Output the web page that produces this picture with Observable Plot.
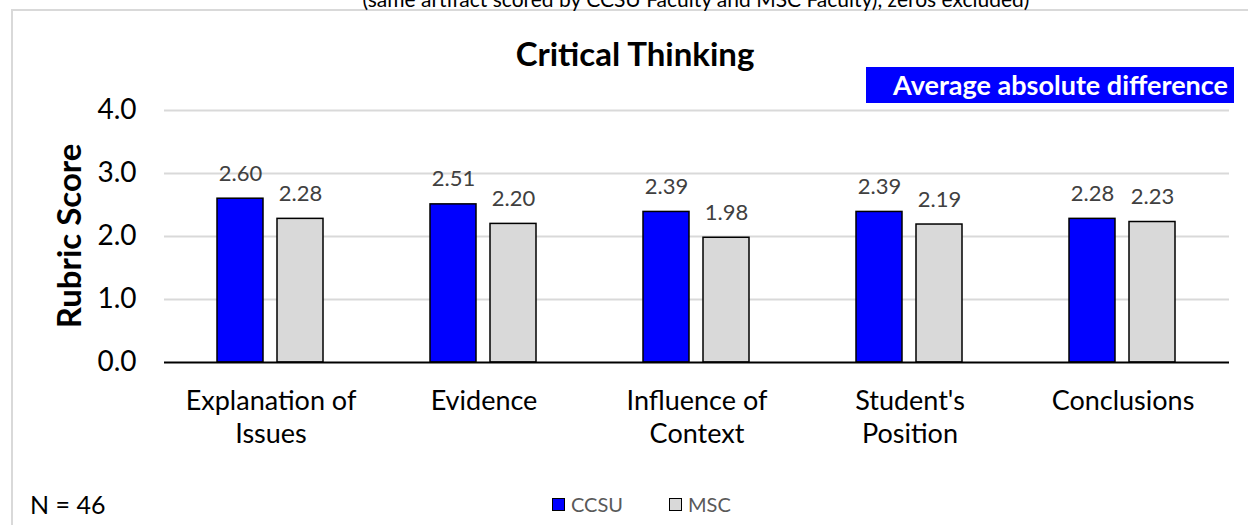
<!DOCTYPE html>
<html>
<head>
<meta charset="utf-8">
<script src="https://cdn.jsdelivr.net/npm/d3@7"></script>
<script src="https://cdn.jsdelivr.net/npm/@observablehq/plot@0.6"></script>
<style>
  html, body { margin: 0; padding: 0; background: #fff; }
  #wrap { position: relative; width: 1248px; height: 525px; overflow: hidden; font-family: Lato, "Open Sans", sans-serif; }
  #frame { position: absolute; left: 11px; top: 9px; width: 1300px; height: 600px; border-left: 2px solid #d9d9d9; border-top: 2px solid #d9d9d9; }
  #sub { position: absolute; left: 0; width: 1392px; top: -14px; text-align: center; font-size: 21px; color: #000; white-space: nowrap; }
  #title { position: absolute; left: 0; width: 1270px; top: 33px; text-align: center; font-size: 33px; font-weight: bold; color: #000; line-height: 40px; }
  #badge { position: absolute; left: 866px; top: 67px; width: 368px; height: 36px; background: #0000ff; color: #fff; font-weight: bold; font-size: 27px; line-height: 36px; text-align: right; box-sizing: border-box; padding-right: 6px; white-space: nowrap; }
  #ylab { position: absolute; left: 68px; top: 236px; transform: translate(-50%, -50%) rotate(-90deg); font-size: 33px; font-weight: bold; color: #000; white-space: nowrap; }
  #n { position: absolute; left: 30px; top: 489px; font-size: 25px; color: #000; line-height: 30px; }
  #legend { position: absolute; left: 552px; top: 492px; font-size: 20px; color: #595959; display: flex; line-height: 24px; }
  .li { display: flex; align-items: center; margin-right: 46px; }
  .sw { width: 11px; height: 11px; border: 1.5px solid #000; margin-right: 6px; }
  #chart { position: absolute; left: 0; top: 0; }
</style>
</head>
<body>
<div id="wrap">
  <div id="frame"></div>
  <div id="sub">(same artifact scored by CCSU Faculty and MSC Faculty), zeros excluded)</div>
  <div id="title">Critical Thinking</div>
  <div id="badge">Average absolute difference</div>
  <div id="ylab">Rubric Score</div>
  <div id="chart"></div>
  <div id="n">N = 46</div>
  <div id="legend"></div>
</div>
<script>
const categories = ["Explanation of\nIssues", "Evidence", "Influence of\nContext", "Student's\nPosition", "Conclusions"];
const series = ["CCSU", "MSC"];
const ccsu = [2.60, 2.51, 2.39, 2.39, 2.28];
const msc = [2.28, 2.20, 1.98, 2.19, 2.23];
const yTicks = [0, 1, 2, 3, 4];
const colors = ["#0000ff", "#d9d9d9"];

const data = categories.flatMap((c, i) => [
  {cat: c, s: series[0], v: ccsu[i]},
  {cat: c, s: series[1], v: msc[i]}
]);

const chart = Plot.plot({
  width: 1248,
  height: 525,
  marginLeft: 162,
  marginRight: 18,
  marginTop: 110,
  marginBottom: 163,
  style: {fontFamily: "Lato, 'Open Sans', sans-serif", background: "transparent", overflow: "visible"},
  fx: {domain: categories, padding: 0, label: null},
  x: {domain: series, axis: null, paddingInner: 0.23, paddingOuter: 0.866},
  y: {domain: [0, 4], label: null},
  color: {domain: series, range: colors},
  marks: [
    Plot.ruleY(yTicks.slice(1), {stroke: "#d9d9d9", strokeWidth: 2}),
    Plot.barY(data, {fx: "cat", x: "s", y: "v", fill: "s", stroke: "#000", strokeWidth: 1.5}),
    Plot.ruleY([0], {stroke: "#000", strokeWidth: 2}),
    Plot.text(data, {fx: "cat", x: "s", y: "v", text: d => d.v.toFixed(2), dy: -25, fill: "#404040", fontSize: 22}),
    Plot.axisY({ticks: yTicks, tickFormat: d => d.toFixed(1), tickSize: 0, tickPadding: 28, fontSize: 28, fill: "#000", label: null}),
    Plot.axisFx({anchor: "bottom", tickSize: 0, tickPadding: 24, fontSize: 27, lineHeight: 1.22, fill: "#000", label: null})
  ]
});
document.getElementById("chart").appendChild(chart);

const legend = document.getElementById("legend");
series.forEach((s, i) => {
  const item = document.createElement("div");
  item.className = "li";
  const sw = document.createElement("div");
  sw.className = "sw";
  sw.style.background = colors[i];
  const t = document.createElement("span");
  t.textContent = s;
  item.appendChild(sw);
  item.appendChild(t);
  legend.appendChild(item);
});
</script>
</body>
</html>
